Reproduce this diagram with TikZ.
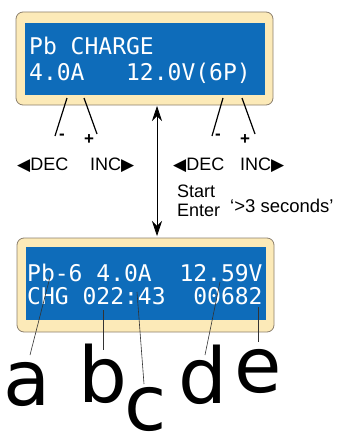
\documentclass[tikz,border=0pt]{standalone}
\usepackage{fontspec}
\setmainfont{Liberation Sans}
\newfontfamily\lcdfont{DejaVu Sans Mono}
\newfontfamily\bigfont{DejaVu Sans}
\newfontfamily\symfont{DejaVu Sans}
\usetikzlibrary{arrows.meta}
\definecolor{lcdblue}{RGB}{14,108,186}
\definecolor{lcdframe}{RGB}{252,234,184}
\definecolor{lcdedge}{RGB}{140,128,110}
\newcommand{\lefttri}{{\symfont\fontsize{17}{17}\selectfont\raisebox{-0.5pt}{◀}}}
\newcommand{\righttri}{{\symfont\fontsize{17}{17}\selectfont\raisebox{-0.5pt}{▶}}}

\begin{document}
\begin{tikzpicture}[x=1pt,y=-1pt,
    frame/.style={draw=lcdedge,line width=0.8pt,fill=lcdframe,rounded corners=7pt,minimum width=257pt,minimum height=93pt,inner sep=0pt},
    screen/.style={fill=lcdblue,minimum width=240pt,minimum height=72pt,inner sep=0pt},
    lcd/.style={anchor=base west,inner sep=0pt,text=white,font=\lcdfont\fontsize{23}{23}\selectfont},
    key/.style={anchor=base west,inner sep=0pt,font=\fontsize{18}{18}\selectfont},
    sign/.style={inner sep=0pt,font=\bfseries\fontsize{17}{17}\selectfont},
    tag/.style={anchor=base,inner sep=0pt,font=\bigfont\fontsize{77}{77}\selectfont},
    wire/.style={line width=1.2pt},
    lead/.style={draw=black!80,line width=0.6pt}]
    \useasboundingbox (0,0) rectangle (338,436);

    \node[frame] (top) at (144.5,58.5) {};
    \node[screen] (topscr) at (145,59) {};
    \node[lcd] (l1) at (29,55) {Pb CHARGE};
    \node[lcd] (l2) at (29,80) {4.0A\ \ \ 12.0V(6P)};

    \node[frame,minimum height=94pt] (bot) at (145.5,285) {};
    \node[screen,minimum height=73pt] (botscr) at (145.5,283.5) {};
    \node[lcd] (m1) at (27,281) {Pb-6 4.0A\ \ 12.59V};
    \node[lcd] (m2) at (27,304) {CHG 022:43\ \ 00682};

    \coordinate (lm1) at (67,98); \coordinate (lm2) at (55,136);
    \coordinate (lp1) at (84,98); \coordinate (lp2) at (97,134);
    \coordinate (rm1) at (223,98); \coordinate (rm2) at (212,136);
    \coordinate (rp1) at (242,98); \coordinate (rp2) at (255,134);
    \draw[wire] (lm1) -- (lm2);
    \draw[wire] (lp1) -- (lp2);
    \draw[wire] (rm1) -- (rm2);
    \draw[wire] (rp1) -- (rp2);
    \node[sign] (lminus) at (62,137) {-};
    \node[sign] (lplus) at (89,140) {+};
    \node[sign] (rminus) at (218,137) {-};
    \node[sign] (rplus) at (245,140) {+};

    \node[key] (ldec) at (17,170) {\lefttri DEC};
    \node[key] (linc) at (90,170) {INC\righttri};
    \node[key] (rdec) at (173,170) {\lefttri DEC};
    \node[key] (rinc) at (240,170) {INC\righttri};

    \node[key] (start) at (177,197) {Start};
    \node[key] (enter) at (177,216) {Enter};
    \node[key,font=\fontsize{18.5}{18.5}\selectfont] (secs) at (230,212) {`>3 seconds'};

    \coordinate (up) at (157,106); \coordinate (dn) at (157,236);
    \draw[{Stealth[length=15pt,width=10pt,inset=5pt]}-{Stealth[length=15pt,width=10pt,inset=5pt]},line width=0.7pt] (up) -- (dn);

    \node[tag] (a) at (27.5,405) {a};
    \node[tag] (b) at (102.5,402) {b};
    \node[tag] (c) at (145.5,430) {c};
    \node[tag] (d) at (202.5,403) {d};
    \node[tag] (e) at (258.5,392) {e};
    \coordinate (pa) at (50,277); \coordinate (qa) at (30,355);
    \coordinate (pb) at (103,310); \coordinate (qb) at (103,350);
    \coordinate (pc) at (137,292); \coordinate (qc) at (144,384);
    \coordinate (pd) at (220,282); \coordinate (qd) at (205,355);
    \coordinate (pe) at (258,307); \coordinate (qe) at (258,342);
    \draw[lead] (pa) -- (qa);
    \draw[lead] (pb) -- (qb);
    \draw[lead] (pc) -- (qc);
    \draw[lead] (pd) -- (qd);
    \draw[lead] (pe) -- (qe);
\end{tikzpicture}
\end{document}
